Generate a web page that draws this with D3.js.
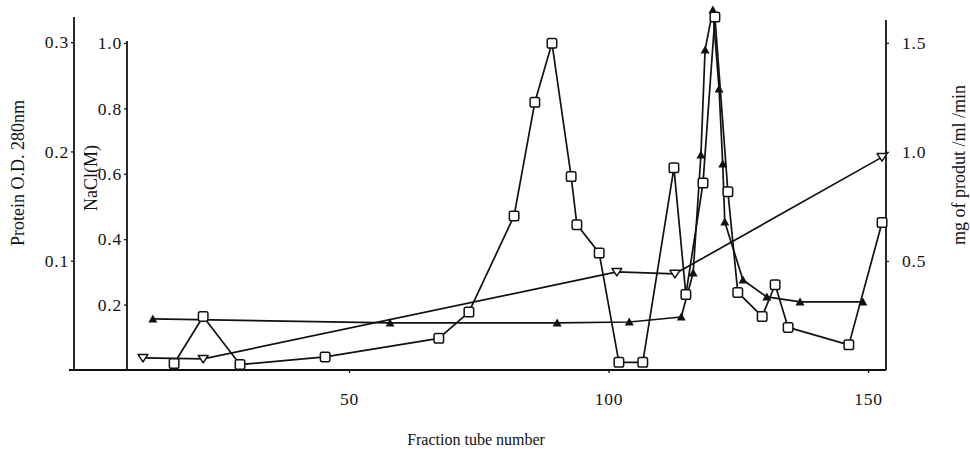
<!DOCTYPE html>
<html>
<head>
<meta charset="utf-8">
<script src="https://cdn.jsdelivr.net/npm/d3@7"></script>
<style>
  html, body { margin: 0; padding: 0; background: #fff; }
  svg { display: block; }
  text { font-family: "Liberation Serif", "DejaVu Serif", serif; fill: #111; }
</style>
</head>
<body>
<svg id="chart" width="970" height="455"></svg>
<script>
// ---- data ----
const xTicks = [50, 100, 150];
const proteinTicks = [0.1, 0.2, 0.3];
const naclTicks = [0.2, 0.4, 0.6, 0.8, 1.0];
const activityTicks = [0.5, 1.0, 1.5];

// open squares: protein O.D. 280nm
const proteinFraction = [16.3, 21.9, 29.0, 45.4, 67.3, 73.1, 81.8, 85.8, 89.1, 92.8, 93.9, 98.2, 102.0, 106.6, 112.6, 114.9, 118.2, 120.5, 123.0, 124.9, 129.6, 132.1, 134.6, 146.3, 152.7];
const proteinOD = [0.006, 0.049, 0.005, 0.012, 0.029, 0.053, 0.141, 0.245, 0.299, 0.177, 0.133, 0.107, 0.007, 0.007, 0.185, 0.069, 0.171, 0.323, 0.163, 0.071, 0.049, 0.078, 0.039, 0.023, 0.135];

// filled triangles: mg of product /ml /min
const activityFraction = [12.2, 57.9, 90.1, 104.0, 114.0, 116.3, 117.8, 118.6, 120.1, 121.3, 122.0, 122.4, 125.9, 130.5, 136.9, 149.0];
const activity = [0.234, 0.216, 0.216, 0.220, 0.243, 0.445, 0.986, 1.468, 1.651, 1.289, 0.945, 0.679, 0.413, 0.335, 0.312, 0.312];

// open inverted triangles: NaCl (M)
const naclFraction = [10.3, 21.9, 101.6, 112.8, 152.7];
const nacl = [0.037, 0.034, 0.300, 0.294, 0.651];

// ---- layout ----
const svg = d3.select("#chart");
const y0 = 370;
const xProteinAxis = 74, xNaclAxis = 127, xRightAxis = 886;

const x = d3.scaleLinear().domain([0, 155]).range([89.5, 894]);
const yProtein = d3.scaleLinear().domain([0, 0.323]).range([y0, 17]);
const yNacl = d3.scaleLinear().domain([0, 1.0]).range([y0, 43]);
const yAct = d3.scaleLinear().domain([0, 1.605]).range([y0, 20]);

const ink = "#111";
const sw = 1.7;

function styleTicks(g) {
  g.selectAll("line").attr("stroke", ink).attr("stroke-width", 1.3);
  g.selectAll("text").style("font-size", "17.5px").style("font-family", "Liberation Serif")
    .style("letter-spacing", "0.8px").attr("fill", ink);
}

// baseline
svg.append("line").attr("x1", xProteinAxis - 5).attr("x2", xRightAxis)
  .attr("y1", y0).attr("y2", y0).attr("stroke", ink).attr("stroke-width", 1.8);

// x axis ticks
const gx = svg.append("g").attr("transform", `translate(0,${y0})`)
  .call(d3.axisBottom(x).tickValues(xTicks).tickSize(3).tickPadding(20).tickFormat(d3.format("d")));
gx.select(".domain").remove();
styleTicks(gx);

// protein axis
const gp = svg.append("g").attr("transform", `translate(${xProteinAxis},0)`)
  .call(d3.axisLeft(yProtein).tickValues(proteinTicks).tickSize(3).tickPadding(2).tickFormat(d3.format(".1f")));
gp.select(".domain").attr("stroke", ink).attr("stroke-width", 1.8).attr("d", `M0,${y0}V17`);
styleTicks(gp);

// NaCl axis
const gn = svg.append("g").attr("transform", `translate(${xNaclAxis},0)`)
  .call(d3.axisLeft(yNacl).tickValues(naclTicks).tickSize(3).tickPadding(2).tickFormat(d3.format(".1f")));
gn.select(".domain").attr("stroke", ink).attr("stroke-width", 1.8).attr("d", `M0,${y0}V41`);
styleTicks(gn);

// right axis
const gr = svg.append("g").attr("transform", `translate(${xRightAxis},0)`)
  .call(d3.axisRight(yAct).tickValues(activityTicks).tickSize(3).tickPadding(13).tickFormat(d3.format(".1f")));
gr.select(".domain").attr("stroke", ink).attr("stroke-width", 1.8).attr("d", `M0,${y0}V20`);
styleTicks(gr);

// axis titles
svg.append("text").attr("transform", "translate(24,173) rotate(-90)")
  .attr("text-anchor", "middle").style("font-size", "18px").text("Protein O.D. 280nm");
svg.append("text").attr("transform", "translate(97,178) rotate(-90)")
  .attr("text-anchor", "middle").style("font-size", "18px").text("NaCl(M)");
svg.append("text").attr("transform", "translate(965,165) rotate(-90)")
  .attr("text-anchor", "middle").style("font-size", "18px").text("mg of produt /ml /min");
svg.append("text").attr("x", 476).attr("y", 445)
  .attr("text-anchor", "middle").style("font-size", "16px").text("Fraction tube number");

// ---- series ----
function drawLine(xs, ys, yScale) {
  const pts = xs.map((v, i) => [x(v), yScale(ys[i])]);
  svg.append("path").attr("d", d3.line()(pts))
    .attr("fill", "none").attr("stroke", ink).attr("stroke-width", sw).attr("stroke-linejoin", "round");
  return pts;
}

const nPts = drawLine(naclFraction, nacl, yNacl);
const aPts = drawLine(activityFraction, activity, yAct);
const pPts = drawLine(proteinFraction, proteinOD, yProtein);

// inverted open triangles
svg.append("g").selectAll("path").data(nPts).join("path")
  .attr("transform", d => `translate(${d[0]},${d[1]})`)
  .attr("d", "M-5,-3.5L5,-3.5L0,4Z")
  .attr("fill", "#fff").attr("stroke", ink).attr("stroke-width", 1.5).attr("stroke-linejoin", "round");

// filled triangles
svg.append("g").selectAll("path").data(aPts).join("path")
  .attr("transform", d => `translate(${d[0]},${d[1]})`)
  .attr("d", "M0,-4.5L4.5,3.5L-4.5,3.5Z")
  .attr("fill", ink);

// open squares
svg.append("g").selectAll("rect").data(pPts).join("rect")
  .attr("x", d => d[0] - 4.75).attr("y", d => d[1] - 4.75)
  .attr("width", 9.5).attr("height", 9.5).attr("rx", 1.8)
  .attr("fill", "#fff").attr("stroke", ink).attr("stroke-width", 1.5);
</script>
</body>
</html>
